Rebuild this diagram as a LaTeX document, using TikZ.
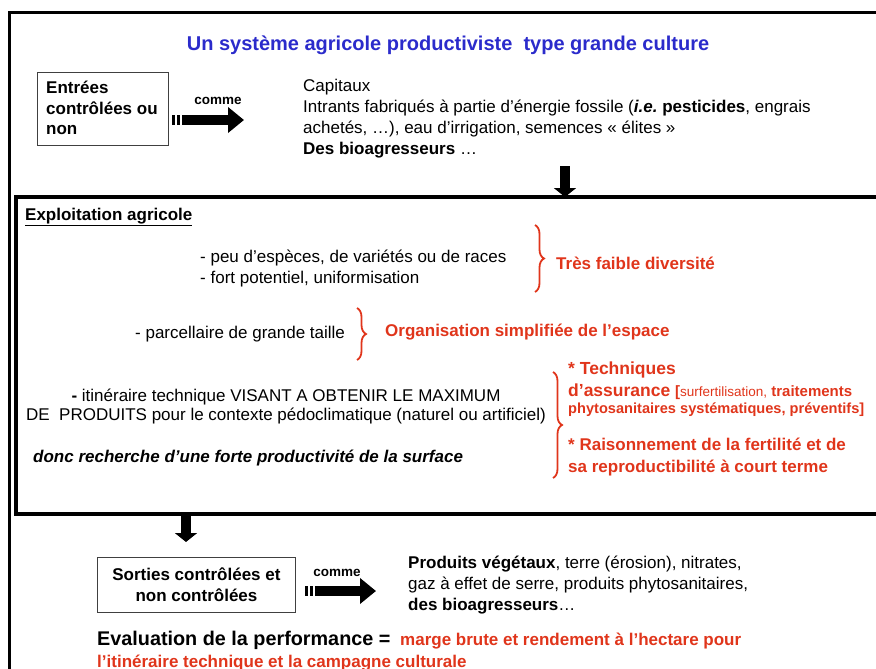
\documentclass[tikz,border=0pt]{standalone}
\usepackage{fontspec}
\setmainfont{Liberation Sans}
\usepackage{xcolor}
\usepackage{tikz}
\usetikzlibrary{arrows.meta, positioning, decorations.pathreplacing}
\definecolor{agBlue}{HTML}{2B2BCB}
\definecolor{agRed}{HTML}{E0351B}
\newcommand{\fs}[2]{\fontsize{#1}{#2}\selectfont}
\frenchspacing
\tikzset{
  agframe/.style={draw=black, line width=3pt},
  agexp/.style={draw=black, line width=3.5pt, anchor=north west, inner sep=0pt},
  agbox/.style={draw=black!75, line width=0.9pt, anchor=north west, inner sep=0pt},
  agtxt/.style={font=\fs{17}{20.5}, align=left, inner sep=0pt, anchor=base west},
  agred/.style={agtxt, text=agRed, font=\fs{17}{20.5}\bfseries},
  agbrace/.style={draw=agRed, line width=1.8pt, decorate,
                  decoration={brace, amplitude=9pt}},
  agfat/.style={line width=10pt, dash pattern=on 3pt off 2pt on 3pt off 2pt on 200pt,
                -{Triangle[width=25pt,length=16pt]}},
  agdown/.style={line width=10pt, -{Triangle[width=22pt,length=9pt]}},
  agcomme/.style={font=\fs{13.5}{15}\bfseries, inner sep=0pt, anchor=base},
}

\begin{document}
\begin{tikzpicture}[x=1pt, y=-1pt]
\useasboundingbox (0,0) rectangle (876,669);
\clip (0,0) rectangle (876,669);
\draw[agframe] (9,700) -- (9,13) -- (900,13);

\node[font=\fs{20}{24}\bfseries, text=agBlue, inner sep=0pt] (title) at (448,45) {Un système agricole productiviste\ \ type grande culture};

\node[agbox, minimum width=131pt, minimum height=73pt] (ent) at (37,72) {};
\node[agtxt, font=\fs{17}{20.5}\bfseries] (entt) at (46,135) {Entrées\\contrôlées ou\\non};
\coordinate (ea) at (172,120);
\coordinate (eb) at (244,120);
\draw[agfat] (ea) -- (eb);
\node[agcomme] (comme1) at (218,105) {comme};
\node[agtxt, font=\fs{17}{21}] (capit) at (303,154) {Capitaux\\Intrants fabriqués à partie d’énergie fossile (\textbf{\textit{i.e.}} \textbf{pesticides}, engrais\\achetés, …), eau d’irrigation, semences « élites »\\\textbf{Des bioagresseurs} …};
\coordinate (da) at (565,166);
\coordinate (db) at (565,197);
\draw[agdown] (da) -- (db);

\node[agexp, minimum width=890pt, minimum height=317pt] (exp) at (14,195) {};
\node[agtxt, font=\fs{17}{20}\bfseries] (explab) at (25,220) {\underline{Exploitation agricole}};

\node[agtxt] (esp) at (200,283) {- peu d’espèces, de variétés ou de races\\- fort potentiel, uniformisation};
\draw[agbrace] (535,225) -- (535,292);
\node[agred] (div) at (556,269) {Très faible diversité};

\node[agtxt] (parc) at (135,338) {- parcellaire de grande taille};
\draw[agbrace] (357,308) -- (357,360);
\node[agred] (orga) at (385,336) {Organisation simplifiée de l’espace};

\node[agtxt, font=\fs{17}{19}, align=center, anchor=base] (itin) at (286,420) {\textbf{-} itinéraire technique VISANT A OBTENIR LE MAXIMUM\\DE\ \ PRODUITS pour le contexte pédoclimatique (naturel ou artificiel)};
\node[agtxt, font=\fs{17}{20}\bfseries\itshape] (donc) at (33,462) {donc recherche d’une forte productivité de la surface};
\draw[agbrace] (553,372) -- (553,478);
\node[agred, font=\fs{17.5}{22}\bfseries] (tech) at (568,396) {* Techniques\\d’assurance {\fs{15}{18}[{\mdseries\fs{13.5}{18}surfertilisation,} traitements}};
\node[agred, font=\fs{14.6}{18}\bfseries] (phyto) at (568,413) {phytosanitaires systématiques, préventifs]};
\node[agred, font=\fs{17}{22}\bfseries] (rais) at (568,472) {* Raisonnement de la fertilité et de\\sa reproductibilité à court terme};

\coordinate (dc) at (186,514);
\coordinate (dd) at (186,542);
\draw[agdown] (dc) -- (dd);

\node[agbox, minimum width=198pt, minimum height=55pt] (sort) at (97,557) {};
\node[agtxt, align=center, anchor=center, font=\fs{17}{20.5}\bfseries] (sortt) at (sort.center) {Sorties contrôlées et\\non contrôlées};
\coordinate (sa) at (305,591);
\coordinate (sb) at (376,591);
\draw[agfat] (sa) -- (sb);
\node[agcomme] (comme2) at (337,576) {comme};
\node[agtxt, font=\fs{17}{21}] (prod) at (408,610) {\textbf{Produits végétaux}, terre (érosion), nitrates,\\gaz à effet de serre, produits phytosanitaires,\\\textbf{des bioagresseurs}…};

\node[agtxt, font=\fs{19.8}{22}\bfseries] (eval) at (97,645) {Evaluation de la performance =};
\node[agred, font=\fs{17}{20}\bfseries] (marge) at (400,645) {marge brute et rendement à l’hectare pour};
\node[agred, font=\fs{17}{20}\bfseries] (itin2) at (97,667) {l’itinéraire technique et la campagne culturale};
\end{tikzpicture}
\end{document}
